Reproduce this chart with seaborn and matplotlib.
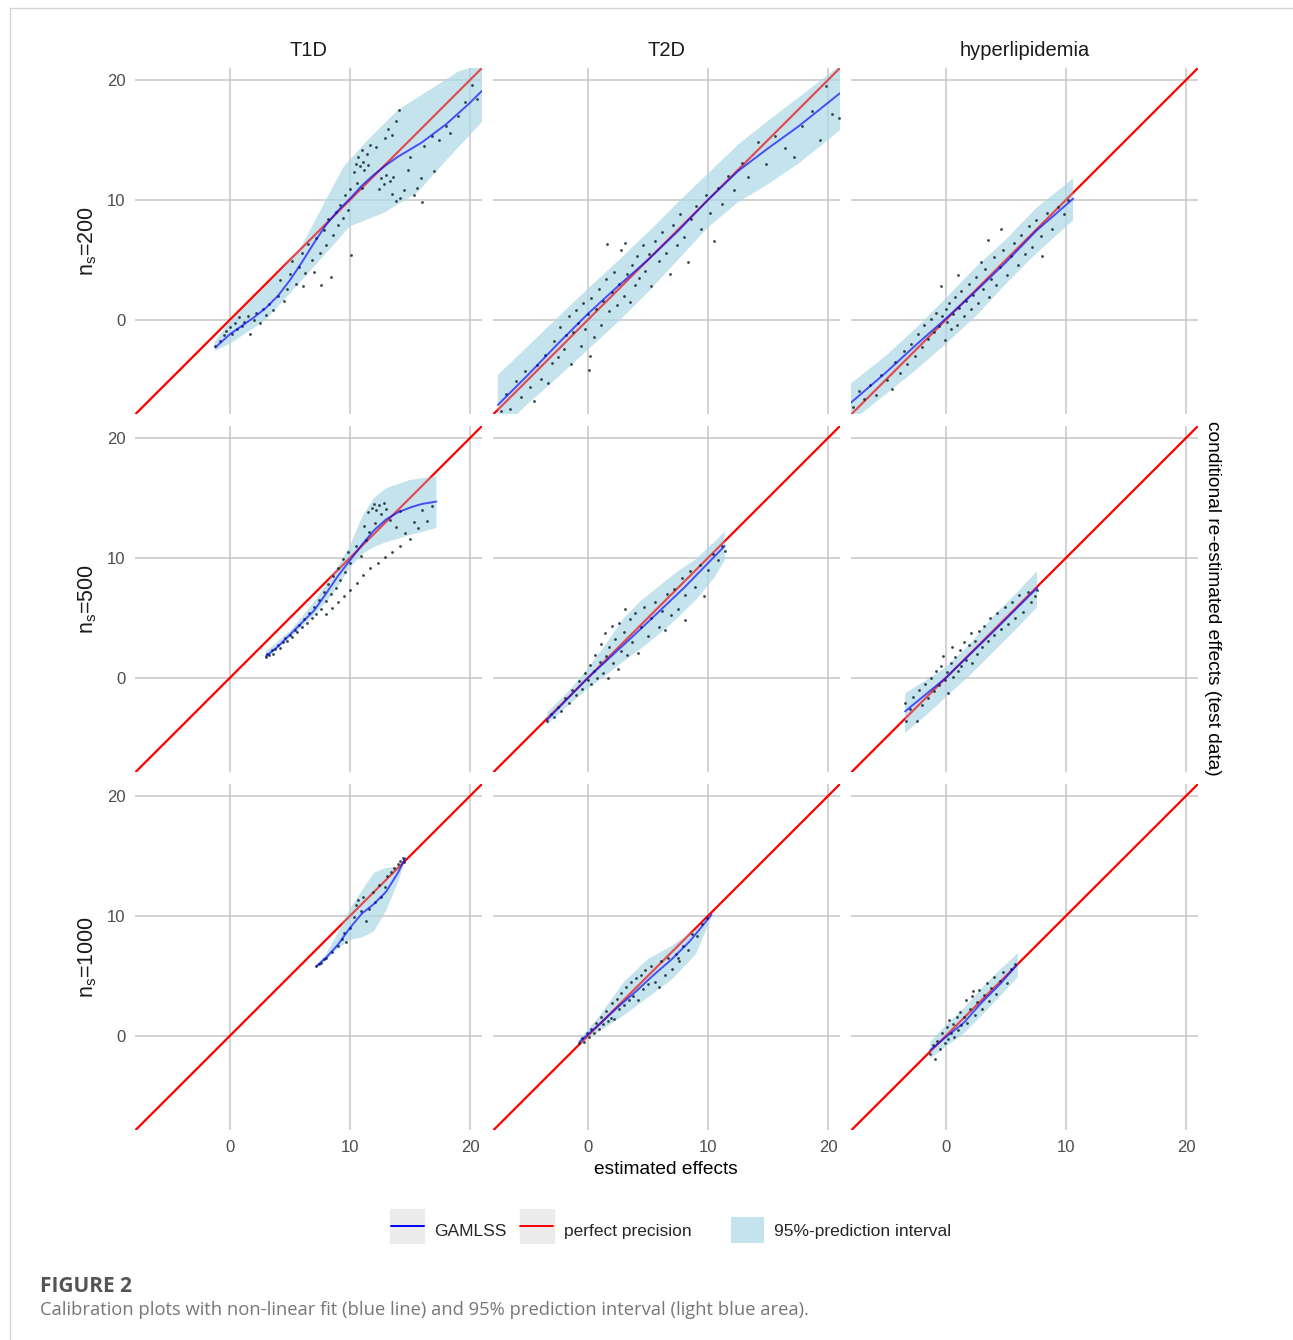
import numpy as np
import matplotlib
matplotlib.use("Agg")
import matplotlib.pyplot as plt
import seaborn as sns
from matplotlib.lines import Line2D
from matplotlib.patches import Patch
from matplotlib.legend_handler import HandlerTuple

diseases = ["T1D", "T2D", "hyperlipidemia"]
sample_sizes = [200, 500, 1000]
tick_values = [0, 10, 20]

# ---- points (estimated effect, re-estimated effect) ----
pts_t1d_200 = [(-1.2, -2.2), (-0.8, -1.8), (-0.5, -1.3), (-0.3, -0.9), (0.0, -0.6), (0.2, -1.2), (0.4, -0.3),
               (0.6, -0.8), (0.8, 0.2), (1.0, -0.5), (1.2, -0.2), (1.5, 0.3), (1.7, -1.2), (2.0, 0.0), (2.2, 0.6),
               (2.5, -0.3), (2.8, 0.9), (3.0, 0.4), (3.3, 1.3), (3.6, 0.8), (4.0, 2.0), (4.2, 3.3), (4.5, 1.6),
               (4.8, 2.6), (5.0, 3.8), (5.2, 4.9), (5.5, 3.0), (5.8, 4.4), (6.0, 5.6), (6.1, 2.8), (6.3, 3.9),
               (6.5, 6.3), (6.8, 5.0), (7.0, 4.0), (7.2, 6.8), (7.5, 5.6), (7.6, 2.9), (7.8, 7.5), (8.0, 6.2),
               (8.2, 8.4), (8.4, 3.6), (8.6, 7.1), (8.8, 9.0), (9.0, 7.9), (9.2, 9.6), (9.4, 8.5), (9.6, 10.4),
               (9.8, 9.2), (10.0, 10.9), (10.1, 5.4), (10.3, 12.3), (10.5, 13.0), (10.7, 13.6), (10.8, 12.8),
               (11.0, 14.2), (11.1, 13.2), (11.2, 12.5), (11.4, 13.8), (11.5, 12.9), (10.6, 11.4), (11.0, 11.0),
               (11.7, 14.6), (12.4, 10.9), (12.6, 11.8), (12.8, 11.3), (13.0, 12.1), (13.3, 11.6), (13.5, 10.5),
               (13.6, 11.9), (13.8, 9.9), (14.2, 10.2), (14.5, 10.8), (14.8, 12.5), (15.3, 10.4), (15.6, 11.0),
               (15.9, 11.8), (12.9, 15.2), (13.2, 15.9), (13.5, 15.4), (13.8, 16.6), (14.1, 17.5), (12.2, 14.4),
               (15.0, 13.6), (16.2, 14.5), (16.8, 15.3), (17.4, 15.0), (18.0, 16.2), (18.3, 15.6), (19.0, 17.0),
               (19.6, 18.2), (20.2, 19.6), (20.6, 18.4), (17.0, 12.4), (16.0, 9.8)]
pts_t2d_200 = [(-7.2, -7.6), (-6.8, -6.2), (-6.5, -7.4), (-6.0, -5.1), (-5.6, -6.4), (-5.2, -4.3), (-4.8, -5.6),
               (-4.5, -6.8), (-4.2, -3.8), (-3.9, -4.9), (-3.6, -2.9), (-3.3, -5.3), (-3.0, -3.6), (-2.8, -1.8),
               (-2.5, -3.1), (-2.3, -0.6), (-2.0, -2.4), (-1.8, -1.3), (-1.6, 0.3), (-1.4, -3.7), (-1.2, -1.0),
               (-1.0, 0.8), (-0.8, -0.3), (-0.6, -2.2), (-0.4, 1.4), (-0.2, -0.8), (0.0, 0.5), (0.1, -4.2),
               (0.2, -3.0), (0.3, 1.8), (0.5, -1.4), (0.7, 0.9), (0.9, 2.6), (1.1, -0.4), (1.3, 1.6), (1.5, 3.4),
               (1.6, 6.3), (1.8, 0.7), (2.0, 2.3), (2.2, 4.0), (2.4, 1.2), (2.6, 3.0), (2.8, 5.8), (3.0, 2.0),
               (3.1, 6.4), (3.3, 3.8), (3.5, 1.5), (3.7, 4.6), (3.9, 2.9), (4.1, 5.3), (4.3, 3.5), (4.6, 6.2),
               (4.8, 4.1), (5.1, 5.5), (5.3, 2.8), (5.6, 6.6), (5.9, 4.9), (6.2, 7.3), (6.5, 5.6), (6.8, 3.8),
               (7.1, 7.9), (7.4, 6.2), (7.7, 8.8), (8.0, 6.9), (8.3, 4.8), (8.6, 8.4), (9.0, 9.5), (9.4, 7.6),
               (9.8, 10.4), (10.2, 8.9), (10.5, 6.6), (10.8, 11.0), (11.2, 9.7), (11.7, 12.0), (12.2, 10.8),
               (12.8, 13.1), (13.3, 11.9), (14.2, 14.8), (14.8, 13.0), (15.6, 15.3), (16.4, 14.3), (17.2, 13.6),
               (17.8, 16.2), (18.7, 17.4), (19.3, 15.0), (19.8, 19.5), (20.3, 17.2), (20.9, 16.8)]
pts_hyp_200 = [(-7.7, -7.3), (-7.2, -5.9), (-6.8, -6.6), (-6.3, -5.4), (-5.8, -6.3), (-5.4, -4.6), (-4.9, -5.0),
               (-4.5, -5.8), (-4.2, -3.5), (-3.8, -4.4), (-3.5, -2.6), (-3.2, -3.7), (-2.9, -2.0), (-2.6, -3.0),
               (-2.3, -1.2), (-2.0, -2.3), (-1.8, -0.4), (-1.5, -1.6), (-1.2, 0.1), (-1.0, -1.0), (-0.8, 0.6),
               (-0.6, -0.5), (-0.4, 2.8), (-0.3, 0.3), (-0.1, -1.7), (0.0, 0.9), (0.1, -0.2), (0.3, 1.4),
               (0.4, -0.8), (0.6, 0.5), (0.8, 1.9), (0.9, -0.4), (1.0, 3.7), (1.1, 1.0), (1.3, 2.4), (1.5, 0.3),
               (1.7, 1.6), (1.9, 3.0), (2.1, 0.9), (2.3, 2.1), (2.5, 3.6), (2.7, 1.4), (2.9, 4.8), (3.1, 2.6),
               (3.3, 4.2), (3.5, 6.7), (3.6, 1.9), (3.8, 3.4), (4.0, 5.2), (4.2, 2.9), (4.5, 4.4), (4.6, 7.6),
               (4.8, 5.8), (5.1, 3.7), (5.4, 5.3), (5.7, 6.4), (6.0, 4.6), (6.3, 7.1), (6.6, 5.5), (6.9, 7.8),
               (7.2, 6.1), (7.5, 8.3), (8.0, 5.3), (7.9, 7.0), (8.4, 8.9), (8.8, 7.6), (9.3, 9.4), (9.8, 8.8),
               (10.2, 10.0)]
pts_t1d_500 = [(3.0, 1.7), (3.1, 2.0), (3.3, 1.9), (3.5, 2.3), (3.6, 2.0), (3.8, 2.4), (4.0, 2.7), (4.2, 2.5),
               (4.4, 3.0), (4.6, 3.3), (4.8, 3.1), (5.0, 3.6), (5.2, 3.4), (5.4, 4.0), (5.6, 3.8), (5.8, 4.4),
               (6.0, 4.2), (6.2, 4.9), (6.4, 4.6), (6.6, 5.4), (6.8, 5.0), (7.0, 5.9), (7.2, 5.3), (7.4, 6.5),
               (7.6, 5.7), (7.8, 7.2), (8.0, 6.4), (8.2, 7.8), (8.4, 7.0), (8.6, 8.5), (8.8, 7.5), (9.0, 9.2),
               (9.2, 8.2), (9.4, 9.9), (9.6, 8.8), (9.8, 10.5), (10.0, 9.6), (8.0, 5.3), (8.5, 5.8), (9.0, 6.3),
               (9.5, 6.8), (10.0, 7.3), (10.6, 7.9), (11.1, 8.6), (11.7, 9.2), (12.3, 9.6), (12.9, 10.1),
               (13.5, 10.5), (14.2, 11.0), (11.5, 13.8), (11.8, 14.2), (12.0, 14.5), (12.2, 14.0), (12.4, 14.4),
               (12.6, 13.7), (12.8, 14.6), (13.0, 14.1), (11.2, 12.7), (11.6, 12.2), (12.1, 12.9), (13.3, 13.2),
               (13.8, 12.6), (14.2, 13.9), (14.6, 12.1), (15.0, 11.6), (15.3, 13.0), (15.7, 12.5), (16.0, 14.0),
               (16.4, 13.1), (16.8, 14.3), (10.5, 11.0), (10.9, 10.2), (11.3, 11.5)]
pts_t2d_500 = [(-3.4, -3.6), (-3.1, -3.0), (-2.8, -3.3), (-2.5, -2.4), (-2.2, -2.8), (-1.9, -1.7), (-1.6, -2.1),
               (-1.3, -1.0), (-1.0, -1.4), (-0.7, -0.3), (-0.5, -0.9), (-0.2, 0.4), (0.0, -0.2), (0.2, 1.1),
               (0.3, -0.5), (0.5, 0.6), (0.6, 1.9), (0.8, 0.0), (1.0, 1.3), (1.1, 2.8), (1.3, 0.4), (1.4, 3.7),
               (1.5, 1.8), (1.7, 0.0), (1.8, 2.6), (2.0, 4.3), (2.1, 1.2), (2.3, 3.2), (2.5, 0.7), (2.6, 4.6),
               (2.8, 2.2), (3.0, 3.8), (3.1, 5.7), (3.3, 1.9), (3.5, 4.9), (3.7, 3.0), (3.9, 5.4), (4.2, 2.1),
               (4.4, 4.2), (4.7, 5.9), (5.0, 3.5), (5.3, 5.0), (5.6, 6.3), (5.9, 4.2), (6.2, 5.6), (6.4, 4.0),
               (6.6, 7.0), (6.9, 5.2), (7.2, 7.4), (7.5, 5.7), (7.8, 8.3), (8.1, 4.8), (8.1, 6.9), (8.5, 8.9),
               (8.9, 7.6), (9.3, 9.4), (9.7, 6.8), (10.0, 9.0), (10.4, 10.3), (10.8, 9.8), (11.2, 11.0), (11.4, 10.6)]
pts_hyp_500 = [(-3.4, -2.1), (-3.3, -3.6), (-3.0, -2.6), (-2.7, -1.6), (-2.4, -3.6), (-2.2, -1.0), (-2.0, -2.3),
               (-1.7, -0.5), (-1.5, -1.7), (-1.2, 0.0), (-1.0, -1.1), (-0.8, 0.6), (-0.6, -0.6), (-0.4, 1.0),
               (-0.2, 1.8), (-0.1, -0.2), (0.1, 0.5), (0.2, -1.3), (0.4, 1.2), (0.5, 2.6), (0.6, 0.1), (0.8, 1.7),
               (1.0, 0.6), (1.2, 2.3), (1.3, 1.0), (1.5, 3.0), (1.7, 1.5), (1.9, 2.7), (2.1, 3.7), (2.2, 1.2),
               (2.4, 3.1), (2.6, 2.0), (2.8, 3.9), (3.0, 2.6), (3.2, 4.3), (3.5, 3.1), (3.7, 5.0), (4.0, 3.6),
               (4.3, 5.4), (4.6, 4.1), (4.9, 5.9), (5.2, 4.5), (5.5, 6.3), (5.8, 5.0), (6.1, 6.9), (6.4, 5.5),
               (6.8, 7.2), (7.1, 6.3), (7.4, 6.8), (7.6, 7.3)]
pts_t1d_1000 = [(7.2, 5.8), (7.4, 6.0), (7.6, 6.1), (7.8, 6.4), (8.0, 6.5), (8.5, 7.0), (9.0, 7.5), (9.3, 8.1),
                (9.5, 8.6), (9.7, 7.8), (10.0, 9.0), (10.3, 9.9), (10.5, 10.9), (10.7, 11.3), (10.9, 10.4),
                (11.1, 11.6), (11.3, 9.6), (11.6, 10.6), (11.9, 12.0), (12.1, 11.2), (12.4, 12.6), (12.6, 11.6),
                (12.9, 12.4), (13.1, 13.3), (13.4, 13.7), (13.7, 14.0), (14.0, 14.3), (14.2, 14.6), (14.4, 14.8),
                (14.5, 14.5)]
pts_t2d_1000 = [(-0.7, -0.6), (-0.5, -0.2), (-0.3, -0.5), (-0.1, 0.2), (0.1, -0.1), (0.3, 0.6), (0.5, 0.2),
                (0.7, 1.1), (0.9, 0.6), (1.1, 1.6), (1.3, 1.0), (1.5, 2.1), (1.7, 1.2), (1.9, 1.5), (2.0, 2.7),
                (2.2, 1.4), (2.4, 3.1), (2.6, 2.2), (2.8, 3.6), (3.0, 2.6), (3.2, 4.1), (3.4, 3.0), (3.6, 4.5),
                (3.8, 3.3), (4.0, 4.8), (4.2, 3.0), (4.4, 5.1), (4.6, 3.9), (4.8, 5.5), (5.0, 4.3), (5.3, 5.8),
                (5.6, 4.5), (5.9, 4.1), (6.1, 6.2), (6.4, 5.1), (6.7, 6.5), (7.0, 5.6), (7.3, 6.8), (7.5, 6.5),
                (7.6, 6.2), (7.9, 7.5), (8.3, 7.2), (8.7, 8.5), (9.1, 8.3), (9.5, 9.3), (9.9, 9.8)]
pts_hyp_1000 = [(-1.3, -1.5), (-1.1, -0.8), (-0.9, -1.9), (-0.7, -0.4), (-0.5, -1.1), (-0.3, 0.2), (-0.1, -0.6),
                (0.1, 0.7), (0.2, -0.3), (0.3, 1.3), (0.4, 0.2), (0.6, 1.0), (0.7, -0.1), (0.9, 1.6), (1.0, 0.5),
                (1.2, 2.0), (1.3, 0.9), (1.5, 1.6), (1.7, 3.0), (1.8, 1.1), (2.0, 2.2), (2.2, 3.3), (2.3, 3.7),
                (2.4, 1.7), (2.6, 2.8), (2.8, 3.8), (3.0, 2.2), (3.2, 3.4), (3.4, 4.4), (3.6, 2.9), (3.8, 4.0),
                (4.0, 4.9), (4.2, 3.5), (4.5, 4.6), (4.8, 5.3), (5.1, 4.4), (5.4, 5.6), (5.8, 6.0)]

# ---- GAMLSS fit (x, y) ----
fit_t1d_200 = [(-1.2, -2.3), (0, -1.2), (1, -0.5), (2, 0.2), (3, 1.0), (4, 2.0), (5, 3.3), (6, 4.8), (7, 6.4),
               (8, 7.9), (9, 9.1), (10, 10.1), (11, 11.2), (12, 12.1), (13, 12.9), (14, 13.6), (16, 14.8),
               (18, 16.3), (20, 18.1), (21, 19.1)]
fit_t2d_200 = [(-7.5, -7.1), (-5, -4.6), (-2.5, -2.0), (0, 0.5), (2.5, 2.8), (5, 5.0), (7.5, 7.4), (10, 10.0),
               (12.5, 12.4), (15, 14.3), (17.5, 16.1), (21, 18.9)]
fit_hyp_200 = [(-7.9, -6.9), (-5, -4.4), (-2.5, -2.1), (0, 0.1), (2.5, 2.4), (5, 4.8), (7.5, 7.4), (10.6, 10.1)]
fit_t1d_500 = [(3, 1.8), (4, 2.6), (5, 3.6), (6, 4.6), (7, 5.6), (8, 7.0), (9, 8.5), (10, 9.8), (11, 11.1),
               (12, 12.3), (13, 13.2), (14, 13.8), (15, 14.2), (16, 14.5), (17.2, 14.7)]
fit_t2d_500 = [(-3.4, -3.5), (0, 0.0), (4, 3.7), (8, 7.5), (11.4, 11.0)]
fit_hyp_500 = [(-3.4, -2.8), (0, 0.0), (4, 3.9), (7.6, 7.5)]
fit_t1d_1000 = [(7.2, 5.8), (8, 6.5), (9, 7.6), (10, 9.0), (11, 10.2), (12, 11.0), (13, 12.0), (14, 13.6),
                (14.6, 14.8)]
fit_t2d_1000 = [(-0.7, -0.5), (1, 1.0), (2.5, 2.4), (4, 3.7), (5.5, 5.1), (7, 6.4), (8.5, 7.9), (10.3, 10.1)]
fit_hyp_1000 = [(-1.3, -1.2), (0, -0.1), (1.5, 1.1), (3, 2.8), (4.5, 4.3), (5.9, 5.9)]

# ---- 95%-prediction interval: upper and lower edges (x, y) ----
up_t1d_200 = [(-1.25, -1.8), (0, -0.1), (3, 2.8), (6, 6.2), (8, 10.0), (9.5, 12.8), (11.5, 15.0), (14, 17.5),
              (17, 19.4), (19, 20.7), (21, 21.3)]
lo_t1d_200 = [(-1.25, -2.6), (0, -2.0), (3, 0.0), (6, 3.3), (8.5, 6.1), (10, 7.8), (12.8, 8.9), (15.6, 10.6),
              (18.3, 13.6), (21, 16.5)]
up_t2d_200 = [(-7.5, -4.6), (-5, -2.2), (-2.5, 0.2), (0, 2.6), (2.5, 4.9), (5, 7.3), (7.5, 9.8), (10, 12.2),
              (12.5, 14.6), (15, 16.6), (17.5, 18.5), (21, 21.2)]
lo_t2d_200 = [(-7.5, -9.5), (-5, -7.0), (-2.5, -4.8), (0, -2.5), (2.5, -0.2), (5, 2.3), (7.5, 5.0), (10, 7.7),
              (12.5, 9.8), (15, 11.3), (17.5, 13.0), (21, 15.8)]
up_hyp_200 = [(-7.9, -5.3), (-5, -3.0), (-2.5, -0.7), (0, 1.8), (2.5, 4.4), (5, 6.7), (7.5, 9.3), (10.6, 11.8)]
lo_hyp_200 = [(-7.9, -8.5), (-5, -6.2), (-2.5, -4.2), (0, -2.0), (2.5, 0.3), (5, 3.0), (7.5, 5.5), (10.6, 8.3)]
up_t1d_500 = [(3, 2.2), (5, 3.9), (7, 6.3), (8, 7.8), (9, 9.3), (10, 11.0), (11, 13.4), (12, 15.0), (13, 15.8),
              (15, 16.5), (17.2, 16.8)]
lo_t1d_500 = [(3, 1.6), (5, 3.3), (7, 5.2), (8, 6.3), (9, 7.6), (10, 9.2), (11, 10.3), (12, 10.9), (13, 11.3),
              (15, 11.9), (17.2, 12.5)]
up_t2d_500 = [(-3.4, -2.9), (-1.5, -1.0), (0, 0.8), (1.5, 2.8), (3, 5.0), (4.5, 6.5), (6, 7.7), (7.5, 8.9),
              (9, 9.9), (10.5, 11.3), (11.4, 12.2)]
lo_t2d_500 = [(-3.4, -3.9), (-1.5, -2.2), (0, -0.9), (1.5, 0.2), (3, 1.4), (4.5, 2.5), (6, 3.7), (7.5, 5.0),
              (9, 6.5), (10.5, 8.3), (11.4, 9.8)]
up_hyp_500 = [(-3.4, -1.3), (-1.5, -0.1), (0, 0.9), (2, 2.8), (4, 5.2), (6, 7.2), (7.6, 8.9)]
lo_hyp_500 = [(-3.4, -4.6), (-1.5, -3.0), (0, -1.6), (2, 0.2), (4, 2.2), (6, 4.2), (7.6, 5.9)]
up_t1d_1000 = [(7.2, 5.9), (8, 6.8), (9, 8.6), (10, 10.6), (11, 12.1), (12, 13.6), (13, 14.0), (14, 14.1),
               (14.6, 14.8)]
lo_t1d_1000 = [(7.2, 5.7), (8, 6.3), (9, 7.3), (10, 8.0), (11, 8.2), (12, 8.7), (13, 10.4), (14, 12.8),
               (14.6, 14.6)]
up_t2d_1000 = [(-0.7, -0.3), (1, 1.7), (3, 4.5), (5, 6.4), (7, 7.5), (9, 8.9), (10.3, 10.2)]
lo_t2d_1000 = [(-0.7, -0.7), (1, 0.4), (3, 1.7), (5, 3.2), (7, 4.7), (9, 6.8), (10.3, 9.9)]
up_hyp_1000 = [(-1.3, -0.5), (0, 0.9), (1.5, 2.3), (3, 4.0), (4.5, 5.5), (6.0, 6.9)]
lo_hyp_1000 = [(-1.3, -1.9), (0, -0.9), (1.5, 0.2), (3, 1.7), (4.5, 3.3), (6.0, 4.9)]

points = [[pts_t1d_200, pts_t2d_200, pts_hyp_200],
          [pts_t1d_500, pts_t2d_500, pts_hyp_500],
          [pts_t1d_1000, pts_t2d_1000, pts_hyp_1000]]
fits = [[fit_t1d_200, fit_t2d_200, fit_hyp_200],
        [fit_t1d_500, fit_t2d_500, fit_hyp_500],
        [fit_t1d_1000, fit_t2d_1000, fit_hyp_1000]]
uppers = [[up_t1d_200, up_t2d_200, up_hyp_200],
          [up_t1d_500, up_t2d_500, up_hyp_500],
          [up_t1d_1000, up_t2d_1000, up_hyp_1000]]
lowers = [[lo_t1d_200, lo_t2d_200, lo_hyp_200],
          [lo_t1d_500, lo_t2d_500, lo_hyp_500],
          [lo_t1d_1000, lo_t2d_1000, lo_hyp_1000]]

sns.set_theme(style="whitegrid")
plt.rcParams["font.family"] = ["Liberation Sans", "DejaVu Sans"]

W, H = 1293, 1340
fig = plt.figure(figsize=(W / 100, H / 100), dpi=100)

col_left = [135, 493, 851]
row_top = [68, 426, 784]
pw, ph = 347, 346
band_col = "lightblue"

for r in range(3):
    for c in range(3):
        ax = fig.add_axes([col_left[c] / W, 1 - (row_top[r] + ph) / H, pw / W, ph / H])
        ax.set_facecolor("white")
        for s in ax.spines.values():
            s.set_visible(False)
        ax.set_xlim(-7.9, 21.0)
        ax.set_ylim(-7.85, 21.0)
        ax.set_xticks(tick_values)
        ax.set_yticks(tick_values)
        ax.grid(True, color="#c6c6c6", linewidth=1.1)
        ax.set_axisbelow(True)
        ax.tick_params(length=0, labelsize=12, colors="#4d4d4d", pad=7)
        if r < 2:
            ax.set_xticklabels([])
        if c > 0:
            ax.set_yticklabels([])

        p = np.array(points[r][c])
        f = np.array(fits[r][c])
        u = np.array(uppers[r][c])
        lo = np.array(lowers[r][c])

        # perfect precision line under the band, softened copy on top
        ax.axline((0, 0), slope=1, color="red", lw=1.5, zorder=1)
        ax.fill(np.r_[u[:, 0], lo[::-1, 0]], np.r_[u[:, 1], lo[::-1, 1]],
                color=band_col, alpha=0.7, lw=0, zorder=3)
        ax.axline((0, 0), slope=1, color="red", lw=1.5, alpha=0.5, zorder=4)
        sns.scatterplot(x=p[:, 0], y=p[:, 1], ax=ax, s=4, color="#10262b", alpha=0.85,
                        linewidth=0, zorder=4.5, legend=False)
        sns.lineplot(x=f[:, 0], y=f[:, 1], ax=ax, color="blue", lw=1.4, alpha=0.65,
                     sort=False, estimator=None, zorder=5)
        ax.set_xlabel("")
        ax.set_ylabel("")

# strip titles
for c, name in enumerate(diseases):
    fig.text((col_left[c] + pw / 2) / W, 1 - 50 / H, name, ha="center", va="center",
             fontsize=14.5, color="#1a1a1a")
for r, n in enumerate(sample_sizes):
    fig.text(88 / W, 1 - (row_top[r] + ph / 2) / H, r"$\mathregular{n_s}$=" + str(n),
             rotation=90, ha="center", va="center", fontsize=15.5, color="#1a1a1a")

fig.text(666 / W, 1 - 1170 / H, "estimated effects", ha="center", va="center", fontsize=13.8, color="black")
fig.text(1213 / W, 1 - 598 / H, "conditional re-estimated effects (test data)", rotation=-90,
         ha="center", va="center", fontsize=13.8, color="black")

# legend: two line keys on a grey key square, then the band key a bit further right
key_bg = "#ececec"


def key_square():
    return Line2D([], [], marker="s", markersize=24, color=key_bg, linestyle="none")


line_handles = [
    (key_square(), Line2D([], [], color="blue", lw=1.4)),
    (key_square(), Line2D([], [], color="red", lw=1.4)),
]
leg_kw = dict(frameon=False, fontsize=12.5, handlelength=1.9, handleheight=2.0, handletextpad=0.6,
              columnspacing=0.8, borderaxespad=0, borderpad=0)
fig.legend(line_handles, ["GAMLSS", "perfect precision"], loc="center",
           bbox_to_anchor=(541 / W, 1 - 1230 / H), ncol=2,
           handler_map={tuple: HandlerTuple(ndivide=1, pad=0)}, **leg_kw)
fig.legend([Patch(facecolor=band_col, alpha=0.7, edgecolor="none")], ["95%-prediction interval"],
           loc="center", bbox_to_anchor=(841 / W, 1 - 1230 / H), **leg_kw)

# caption
fig.text(40 / W, 1 - 1286 / H, "FIGURE 2", ha="left", va="center", fontsize=15, fontweight="bold",
         color="#555555", family=["Open Sans", "DejaVu Sans"])
fig.text(40 / W, 1 - 1310 / H,
         "Calibration plots with non-linear fit (blue line) and 95% prediction interval (light blue area).",
         ha="left", va="center", fontsize=13.2, color="#777777", family=["Open Sans", "DejaVu Sans"])

# page frame
fig.add_artist(Line2D([10 / W, 10 / W], [0, 1 - 8 / H], color="#d4d4d4", lw=1))
fig.add_artist(Line2D([10 / W, 1], [1 - 8 / H, 1 - 8 / H], color="#d4d4d4", lw=1))

fig.savefig("out.png", dpi=100)
